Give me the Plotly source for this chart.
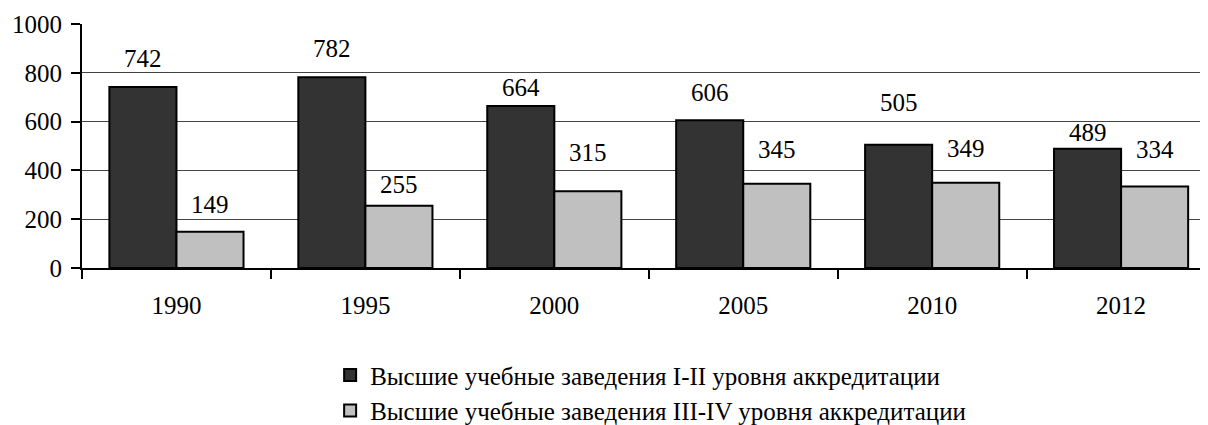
import plotly.graph_objects as go

years = ["1990", "1995", "2000", "2005", "2010", "2012"]
series1_name = "Высшие учебные заведения I-II уровня аккредитации"
series2_name = "Высшие учебные заведения III-IV уровня аккредитации"
series1 = [742, 782, 664, 606, 505, 489]
series2 = [149, 255, 315, 345, 349, 334]

# label offsets (pixels above bar top), as placed in the original
shift1 = [28, 29, 18, 28, 42, 16]
shift2 = [27, 21, 39, 34, 34, 37]

FONT = "Liberation Serif, Times New Roman, serif"
FS = 25
DARK = "#333333"
LIGHT = "#c0c0c0"

fig = go.Figure()
fig.add_trace(go.Bar(x=years, y=series1, name=series1_name,
                     marker=dict(color=DARK, line=dict(color="black", width=2))))
fig.add_trace(go.Bar(x=years, y=series2, name=series2_name,
                     marker=dict(color=LIGHT, line=dict(color="black", width=2))))

ann = []
for i, (v, s) in enumerate(zip(series1, shift1)):
    ann.append(dict(x=i, y=v, xref="x", yref="y", text=str(v), showarrow=False,
                    xshift=-33.5, yshift=s, yanchor="middle", xanchor="center",
                    font=dict(family=FONT, size=FS, color="black")))
for i, (v, s) in enumerate(zip(series2, shift2)):
    ann.append(dict(x=i, y=v, xref="x", yref="y", text=str(v), showarrow=False,
                    xshift=33.5, yshift=s, yanchor="middle", xanchor="center",
                    font=dict(family=FONT, size=FS, color="black")))

fig.update_layout(
    width=1200, height=417,
    margin=dict(l=74, r=0, t=16, b=157, autoexpand=False),
    paper_bgcolor="white", plot_bgcolor="white",
    barmode="group", bargap=0.29, bargroupgap=0,
    font=dict(family=FONT, size=FS, color="black"),
    showlegend=True,
    legend=dict(orientation="v", x=0.505, xanchor="center",
                y=-0.345, yanchor="top",
                font=dict(family=FONT, size=FS, color="black"),
                tracegroupgap=0, bgcolor="rgba(0,0,0,0)"),
)
for a in ann:
    fig.add_annotation(**a)

fig.update_xaxes(type="category", range=[-0.5, 5.46],
                 showline=True, linecolor="black", linewidth=2,
                 ticks="outside", ticklen=9, tickwidth=2, tickcolor="black",
                 tickson="boundaries", tickangle=0, ticklabelstandoff=14,
                 tickfont=dict(family=FONT, size=FS, color="black"),
                 showgrid=False, zeroline=False)
fig.update_yaxes(range=[0, 1000], dtick=200,
                 showline=True, linecolor="black", linewidth=2,
                 ticks="outside", ticklen=9, tickwidth=2, tickcolor="black",
                 showgrid=True, gridcolor="#444444", gridwidth=1,
                 zeroline=False, ticklabelstandoff=4,
                 tickfont=dict(family=FONT, size=FS, color="black"))

fig.write_html("out.html")
